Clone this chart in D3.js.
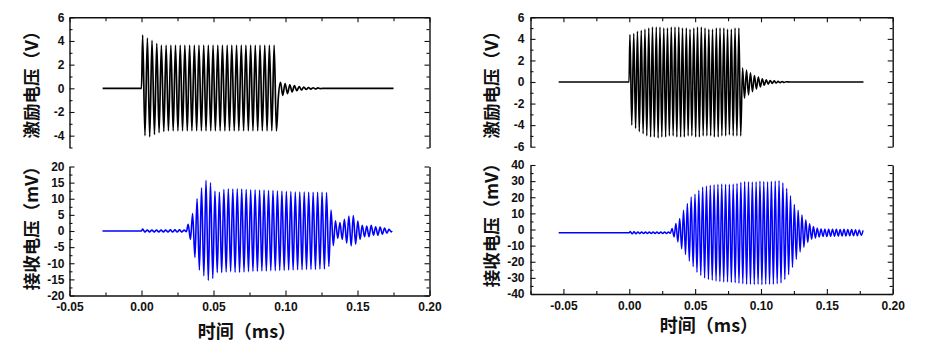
<!DOCTYPE html>
<html><head><meta charset="utf-8">
<script src="https://cdn.jsdelivr.net/npm/d3@7"></script>
<style>
body{margin:0;background:#fff}
svg{display:block}
</style>
</head><body>
<svg id="chart" width="939" height="343"></svg>
<script>
// ---------- DATA (extrema of each half cycle, [time ms, value]) ----------
const leftExcitation = [
[-0.027,0],[0,0],
[0.0008,4.5],[0.0024,-4.0],[0.0041,4.25],[0.0057,-4.1],[0.0073,4.05],[0.0090,-3.9],
[0.0106,3.8],[0.0122,-3.75],[0.0138,3.65],[0.0155,-3.65],[0.0171,3.65],[0.0187,-3.6],
[0.0204,3.65],[0.0220,-3.6],[0.0236,3.65],[0.0253,-3.6],[0.0269,3.65],[0.0285,-3.6],
[0.0301,3.65],[0.0318,-3.6],[0.0334,3.65],[0.0350,-3.6],[0.0367,3.65],[0.0383,-3.6],
[0.0399,3.65],[0.0416,-3.6],[0.0432,3.65],[0.0448,-3.6],[0.0464,3.65],[0.0481,-3.6],
[0.0497,3.65],[0.0513,-3.6],[0.0530,3.65],[0.0546,-3.6],[0.0562,3.65],[0.0579,-3.6],
[0.0595,3.65],[0.0611,-3.6],[0.0627,3.65],[0.0644,-3.6],[0.0660,3.65],[0.0676,-3.6],
[0.0693,3.65],[0.0709,-3.6],[0.0725,3.65],[0.0742,-3.6],[0.0758,3.65],[0.0774,-3.6],
[0.0790,3.65],[0.0807,-3.6],[0.0823,3.65],[0.0839,-3.6],[0.0856,3.65],[0.0872,-3.6],
[0.0888,3.65],[0.0905,-3.6],[0.0921,3.65],[0.0937,-3.6],
[0.0950,-0.8],[0.0965,0.5],[0.0981,-0.6],[0.0997,0.4],[0.1014,-0.45],[0.1030,0.3],
[0.1046,-0.3],[0.1062,0.22],[0.1079,-0.2],[0.1095,0.15],[0.1111,-0.14],[0.1127,0.1],
[0.1144,-0.1],[0.1160,0.07],[0.1176,-0.07],[0.1192,0.05],[0.1209,-0.05],[0.1225,0.03],
[0.1241,-0.03],[0.1258,0],[0.175,0]
];

const leftReceived = [
[-0.0271,0],[0,0],
[0.0008,0.6],[0.0024,-0.3],[0.0040,0.3],[0.0056,-0.3],[0.0072,0.3],[0.0088,-0.3],
[0.0104,0.3],[0.0120,-0.3],[0.0136,0.3],[0.0152,-0.3],[0.0168,0.3],[0.0184,-0.3],
[0.0200,0.35],[0.0216,-0.3],[0.0232,0.35],[0.0248,-0.3],[0.0264,0.35],[0.0280,-0.3],
[0.0296,0.3],[0.0312,-0.2],
[0.0324,2.1],[0.0340,-2.6],[0.0355,5.4],[0.0371,-8.2],[0.0386,10.0],[0.0402,-12.1],
[0.0417,13.4],[0.0433,-13.9],[0.0448,15.7],[0.0464,-15.3],[0.0479,15.0],[0.0495,-14.7],
[0.0510,12.4],[0.0526,-12.9],[0.0541,12.1],[0.0557,-12.9],[0.0572,12.9],[0.0588,-12.7],
[0.0603,13.1],[0.0619,-12.6],[0.0634,13.0],[0.0650,-12.8],[0.0665,13.1],[0.0681,-12.8],
[0.0696,13.0],[0.0712,-12.7],[0.0727,12.9],[0.0743,-12.6],[0.0758,12.8],[0.0774,-12.5],
[0.0789,12.8],[0.0805,-12.5],[0.0820,12.7],[0.0836,-12.4],[0.0851,12.7],[0.0867,-12.4],
[0.0882,12.6],[0.0898,-12.3],[0.0913,12.6],[0.0929,-12.3],[0.0944,12.5],[0.0960,-12.2],
[0.0975,12.4],[0.0991,-12.2],[0.1006,12.3],[0.1022,-12.1],[0.1037,12.2],[0.1053,-12.1],
[0.1068,12.1],[0.1084,-12.0],[0.1099,12.1],[0.1115,-12.0],[0.1130,12.1],[0.1146,-11.9],
[0.1161,12.0],[0.1177,-11.9],[0.1192,12.0],[0.1208,-11.9],[0.1223,12.0],[0.1239,-11.8],
[0.1254,12.0],[0.1270,-11.8],[0.1285,11.9],[0.1301,-11.0],[0.1316,6.5],[0.1332,-4.5],
[0.1347,3.2],[0.1363,-2.3],[0.1378,2.6],[0.1394,-2.6],[0.1409,3.6],[0.1425,-3.8],
[0.1440,4.6],[0.1456,-4.6],[0.1471,4.8],[0.1487,-4.1],[0.1502,3.1],[0.1518,-2.6],
[0.1533,1.8],[0.1549,-1.8],[0.1564,1.5],[0.1580,-1.8],[0.1595,1.8],[0.1611,-1.3],
[0.1626,1.3],[0.1642,-1.3],[0.1657,1.2],[0.1673,-1.0],[0.1688,0.9],[0.1704,-0.7],
[0.1719,0.5],[0.1735,-0.3],[0.1740,0]
];

const rightExcitation = [
[-0.0536,0],[-0.0002,0],
[0.0005,4.4],[0.0019,-4.0],[0.0034,4.5],[0.0048,-4.3],[0.0062,4.7],[0.0076,-4.6],
[0.0091,4.8],[0.0105,-4.8],[0.0119,4.9],[0.0133,-5.0],[0.0148,5.0],[0.0162,-5.1],
[0.0176,5.1],[0.0190,-5.1],[0.0205,5.1],[0.0219,-5.2],[0.0233,5.1],[0.0247,-5.1],
[0.0262,5.0],[0.0276,-5.1],[0.0290,5.0],[0.0304,-5.0],[0.0319,5.1],[0.0333,-5.0],
[0.0347,5.1],[0.0361,-5.1],[0.0376,5.1],[0.0390,-5.1],[0.0404,5.0],[0.0418,-5.1],
[0.0433,5.0],[0.0447,-5.0],[0.0461,4.9],[0.0475,-5.0],[0.0490,5.0],[0.0504,-5.1],
[0.0518,5.1],[0.0532,-5.1],[0.0547,5.1],[0.0561,-5.0],[0.0575,5.0],[0.0589,-5.0],
[0.0604,4.9],[0.0618,-5.0],[0.0632,4.9],[0.0646,-5.1],[0.0661,5.0],[0.0675,-5.1],
[0.0689,5.0],[0.0703,-5.0],[0.0718,5.0],[0.0732,-5.0],[0.0746,4.9],[0.0760,-4.9],
[0.0775,4.9],[0.0789,-5.0],[0.0803,5.0],[0.0817,-5.0],[0.0832,5.0],[0.0846,-5.0],
[0.0860,1.3],[0.0875,-1.5],[0.0890,1.1],[0.0905,-1.2],[0.0920,0.85],[0.0935,-0.9],
[0.0950,0.6],[0.0965,-0.65],[0.0980,0.45],[0.0995,-0.45],[0.1010,0.3],[0.1025,-0.3],
[0.1040,0.2],[0.1055,-0.2],[0.1070,0.14],[0.1085,-0.13],[0.1100,0.1],[0.1115,-0.09],
[0.1130,0.06],[0.1145,-0.06],[0.1160,0.04],[0.1175,-0.04],[0.1190,0.02],[0.1220,0],
[0.1778,0]
];

const rightReceived = [
[-0.0536,-2.0],[0,-2.0],
[0.0007,-1.2],[0.0022,-2.7],[0.0036,-1.4],[0.0051,-2.6],[0.0065,-1.5],[0.0080,-2.5],
[0.0094,-1.5],[0.0109,-2.5],[0.0123,-1.5],[0.0138,-2.5],[0.0152,-1.5],[0.0167,-2.5],
[0.0181,-1.5],[0.0196,-2.5],[0.0210,-1.5],[0.0225,-2.5],[0.0239,-1.5],[0.0254,-2.5],
[0.0268,-1.5],[0.0283,-2.5],[0.0297,-1.6],[0.0312,-2.4],
[0.0325,0.6],[0.0340,-4.6],[0.0354,3.7],[0.0369,-7.7],[0.0383,6.8],[0.0398,-12.0],
[0.0412,12.0],[0.0427,-15.5],[0.0441,16.1],[0.0456,-19.5],[0.0470,20.2],[0.0485,-23.0],
[0.0499,21.8],[0.0514,-26.5],[0.0528,24.4],[0.0543,-28.5],[0.0557,26.3],[0.0572,-30.0],
[0.0586,27.0],[0.0601,-31.0],[0.0615,27.5],[0.0630,-31.5],[0.0644,27.8],[0.0659,-32.0],
[0.0673,28.0],[0.0688,-32.3],[0.0702,28.2],[0.0717,-32.5],[0.0731,28.0],[0.0746,-32.5],
[0.0760,28.0],[0.0775,-32.8],[0.0789,28.2],[0.0804,-33.0],[0.0818,28.6],[0.0833,-33.3],
[0.0847,29.3],[0.0862,-33.6],[0.0876,29.8],[0.0891,-34.0],[0.0905,29.6],[0.0920,-34.0],
[0.0934,29.4],[0.0949,-34.1],[0.0963,29.6],[0.0978,-34.0],[0.0992,30.0],[0.1007,-34.2],
[0.1021,29.8],[0.1036,-34.0],[0.1050,29.6],[0.1065,-34.0],[0.1079,29.9],[0.1094,-33.9],
[0.1108,30.1],[0.1123,-33.7],[0.1137,30.3],[0.1152,-33.2],[0.1166,29.0],[0.1181,-31.0],
[0.1195,25.5],[0.1210,-28.0],[0.1224,21.0],[0.1239,-23.5],[0.1253,15.5],[0.1268,-18.5],
[0.1282,12.0],[0.1297,-14.0],[0.1311,9.0],[0.1326,-11.0],[0.1340,6.0],[0.1355,-8.0],
[0.1369,3.5],[0.1384,-6.0],[0.1398,1.8],[0.1413,-5.2],[0.1427,0.8],[0.1442,-4.6],
[0.1456,0.3],[0.1471,-4.3],[0.1485,0.2],[0.1500,-4.3],[0.1514,0.1],[0.1529,-4.2],
[0.1543,0.2],[0.1558,-4.2],[0.1572,0.1],[0.1587,-4.1],[0.1601,0.0],[0.1616,-4.0],
[0.1630,0.1],[0.1645,-4.0],[0.1659,0.0],[0.1674,-3.9],[0.1688,0.0],[0.1703,-3.9],
[0.1717,-0.2],[0.1732,-3.8],[0.1746,-0.3],[0.1761,-3.6],[0.1775,-0.5]
];

// tick values
const xMajorTicks = [-0.05, 0, 0.05, 0.10, 0.15, 0.20];
const leftXMinorTicks = [-0.025, 0.025, 0.075, 0.125, 0.175];
const rightXMinorTicks = [-0.075, -0.025, 0.025, 0.075, 0.125, 0.175];
const leftTopYTicks = [-4, -2, 0, 2, 4, 6];
const leftTopYMinor = [-5, -3, -1, 1, 3, 5];
const leftBotYTicks = [-20, -15, -10, -5, 0, 5, 10, 15, 20];
const leftBotYMinor = [-17.5, -12.5, -7.5, -2.5, 2.5, 7.5, 12.5, 17.5];
const rightTopYTicks = [-6, -4, -2, 0, 2, 4, 6];
const rightTopYMinor = [-5, -3, -1, 1, 3, 5];
const rightBotYTicks = [-40, -30, -20, -10, 0, 10, 20, 30, 40];
const rightBotYMinor = [-35, -25, -15, -5, 5, 15, 25, 35];

// texts
const topTitle = "激励电压（V）";
const botTitle = "接收电压（mV）";
const xTitle = "时间（ms）";

// ---------- DRAWING ----------
const svg = d3.select("#chart");
const latinFont = "'Liberation Sans', Arial, sans-serif";
const cjkFont = "'Noto Sans CJK SC', 'Noto Sans', sans-serif";
const fmtDash = f => v => f(v).replace("\u2212", "-");

function styleAxis(g) {
  g.selectAll(".domain").attr("stroke", "#111").attr("stroke-width", 1.4);
  g.selectAll(".tick line").attr("stroke", "#111").attr("stroke-width", 1.1);
  g.selectAll(".tick text").attr("fill", "#111")
    .style("font-family", latinFont).style("font-weight", "bold").style("font-size", "12px");
}

function drawSubplot(x, y, yMajor, yMinor, yFmt, data, color, width, isTop, xMinor, yPad) {
  const [y0, y1] = y.range();
  const [x0, x1] = x.range();
  const gl = svg.append("g").attr("transform", `translate(${x0},0)`)
    .call(d3.axisLeft(y).tickValues(yMajor).tickSize(-5).tickSizeOuter(0).tickPadding(yPad).tickFormat(fmtDash(yFmt)));
  styleAxis(gl);
  const glm = svg.append("g").attr("transform", `translate(${x0},0)`)
    .call(d3.axisLeft(y).tickValues(yMinor).tickSize(-3).tickSizeOuter(0).tickFormat(""));
  glm.select(".domain").remove(); styleAxis(glm);
  const gr = svg.append("g").attr("transform", `translate(${x1},0)`)
    .call(d3.axisRight(y).tickValues(yMajor).tickSize(-5).tickSizeOuter(0).tickFormat(""));
  styleAxis(gr);
  const grm = svg.append("g").attr("transform", `translate(${x1},0)`)
    .call(d3.axisRight(y).tickValues(yMinor).tickSize(-3).tickSizeOuter(0).tickFormat(""));
  grm.select(".domain").remove(); styleAxis(grm);
  if (isTop) {
    const gt = svg.append("g").attr("transform", `translate(0,${y1})`)
      .call(d3.axisTop(x).tickValues(xMajorTicks).tickSize(-5).tickSizeOuter(0).tickFormat(""));
    styleAxis(gt);
    const gtm = svg.append("g").attr("transform", `translate(0,${y1})`)
      .call(d3.axisTop(x).tickValues(xMinor).tickSize(-4).tickSizeOuter(0).tickFormat(""));
    gtm.select(".domain").remove(); styleAxis(gtm);
  } else {
    const gb = svg.append("g").attr("transform", `translate(0,${y0})`)
      .call(d3.axisBottom(x).tickValues(xMajorTicks).tickSize(-5).tickSizeOuter(0).tickPadding(7)
        .tickFormat(fmtDash(d3.format(".2f"))));
    styleAxis(gb);
    const gbm = svg.append("g").attr("transform", `translate(0,${y0})`)
      .call(d3.axisBottom(x).tickValues(xMinor).tickSize(-3).tickSizeOuter(0).tickFormat(""));
    gbm.select(".domain").remove(); styleAxis(gbm);
  }
  const line = d3.line().x(d => x(d[0])).y(d => y(d[1])).curve(d3.curveMonotoneX);
  svg.append("path").datum(data).attr("d", line)
    .attr("fill", "none").attr("stroke", color).attr("stroke-width", width)
    .attr("stroke-linejoin", "round");
}

function rotTitle(txt, cx, cy, size) {
  svg.append("text").attr("transform", `translate(${cx},${cy}) rotate(-90)`)
    .attr("text-anchor", "middle").attr("dy", "0.38em")
    .style("font-family", cjkFont).style("font-weight", "bold").style("font-size", size + "px")
    .attr("fill", "#111").text(txt);
}
function xTitleText(txt, cx, cy) {
  svg.append("text").attr("x", cx).attr("y", cy).attr("dy", "0.38em")
    .attr("text-anchor", "middle")
    .style("font-family", cjkFont).style("font-weight", "bold").style("font-size", "18px")
    .attr("fill", "#111").text(txt);
}

// Left panel
{
  const x = d3.scaleLinear().domain([-0.05, 0.20]).range([69.5, 429.5]);
  const yT = d3.scaleLinear().domain([-5, 6]).range([147.5, 17.3]);
  const yB = d3.scaleLinear().domain([-20, 20]).range([295.5, 166.5]);
  drawSubplot(x, yT, leftTopYTicks, leftTopYMinor, d3.format("d"), leftExcitation, "#000", 1.7, true, leftXMinorTicks, 5);
  drawSubplot(x, yB, leftBotYTicks, leftBotYMinor, d3.format("d"), leftReceived, "#0000ff", 1.6, false, leftXMinorTicks, 5);
  rotTitle(topTitle, 31.5, 80.5, 17.5);
  rotTitle(botTitle, 31.5, 224, 17.5);
  xTitleText(xTitle, 247, 331.5);
}
// Right panel
{
  const x = d3.scaleLinear().domain([-0.075, 0.20]).range([530.5, 892.7]);
  const yT = d3.scaleLinear().domain([-6, 6]).range([146.7, 17.3]);
  const yB = d3.scaleLinear().domain([-40, 40]).range([294, 165]);
  drawSubplot(x, yT, rightTopYTicks, rightTopYMinor, d3.format("d"), rightExcitation, "#000", 1.6, true, rightXMinorTicks, 6);
  drawSubplot(x, yB, rightBotYTicks, rightBotYMinor, d3.format("d"), rightReceived, "#0000ff", 1.5, false, rightXMinorTicks, 6);
  rotTitle(topTitle, 491.5, 80.5, 17.5);
  rotTitle(botTitle, 491.5, 221, 17.5);
  xTitleText(xTitle, 709, 325.5);
}
</script>
</body></html>
